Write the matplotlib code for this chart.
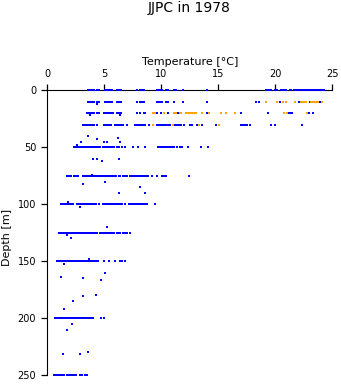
import numpy as np
import matplotlib
matplotlib.use('Agg')
import matplotlib.pyplot as plt

plt.rcParams['font.family'] = ['DejaVu Sans']

# standard depth levels (m) and blue temperatures (degC)
blue_levels = [0, 10, 20, 30, 50, 75, 100, 125, 150, 200, 250]
blue_temps = [
    [3.55, 3.7, 3.85, 4.0, 4.1, 4.4, 4.5, 5.1, 5.25, 5.4, 5.55, 5.7, 6.1, 6.3, 6.5,
     7.9, 8.1, 8.3, 8.5, 9.6, 9.75, 9.9, 10.05, 10.45, 10.6, 11.15, 11.3, 11.9, 14.0,
     19.2, 19.35, 19.5, 19.65, 19.95, 20.15, 20.5, 20.65, 20.8, 20.95, 21.25, 21.4,
     21.65, 21.8, 22.0, 22.15, 22.3, 22.45, 22.6, 22.8, 22.95, 23.1, 23.35, 23.5,
     23.65, 23.8, 23.95, 24.1, 24.25],
    [3.55, 3.7, 3.85, 4.0, 4.1, 4.4, 4.5, 5.1, 5.25, 5.4, 5.55, 5.7, 6.1, 6.3, 6.5,
     7.9, 8.1, 8.35, 8.5, 9.6, 9.75, 9.9, 10.05, 10.45, 10.6, 11.15, 11.9, 14.0,
     18.35, 18.55, 20.45, 22.1, 23.0, 23.9],
    [3.5, 3.65, 3.8, 3.95, 4.1, 4.4, 4.5, 5.0, 5.15, 5.3, 5.45, 5.6, 5.75, 6.1, 6.3,
     6.5, 7.9, 8.1, 8.45, 8.6, 9.65, 9.95, 10.55, 11.45, 14.0, 17.0, 19.35, 21.2,
     21.35, 21.5, 22.95, 23.35],
    [3.15, 3.3, 3.5, 3.65, 3.8, 3.95, 4.1, 4.4, 5.0, 5.15, 5.3, 5.45, 5.6, 5.9, 6.05,
     6.2, 6.35, 6.5, 6.65, 6.95, 7.65, 7.8, 7.95, 8.1, 8.25, 8.4, 8.55, 8.95, 9.65,
     9.8, 9.95, 10.1, 10.25, 10.4, 10.55, 10.8, 11.15, 11.3, 11.45, 11.6, 11.75,
     11.95, 12.55, 12.7, 13.1, 13.6, 14.8, 16.95, 17.1, 17.25, 17.4, 17.55, 17.8,
     19.65, 19.95, 22.35],
    [2.3, 2.45, 2.6, 2.75, 2.9, 3.05, 3.2, 3.35, 3.5, 3.65, 3.8, 3.95, 4.1, 4.25,
     4.45, 4.6, 4.9, 5.05, 5.2, 5.35, 5.5, 5.65, 5.85, 6.1, 6.3, 6.55, 6.8, 7.5, 8.0,
     8.6, 9.75, 9.9, 10.05, 10.2, 10.35, 10.5, 10.65, 10.8, 10.95, 11.1, 11.4, 11.6,
     11.8, 12.3, 13.5, 14.1],
    [1.75, 1.9, 2.1, 2.3, 2.5, 2.65, 3.1, 3.25, 3.4, 3.55, 3.7, 3.85, 4.0, 4.2, 4.4,
     4.55, 4.7, 4.85, 5.0, 5.15, 5.3, 5.45, 5.6, 5.75, 5.9, 6.05, 6.25, 6.4, 6.6, 6.8,
     7.0, 7.25, 7.4, 7.55, 7.7, 7.85, 8.0, 8.15, 8.3, 8.5, 8.7, 8.85, 9.15, 9.65,
     10.1, 10.25, 10.45, 12.45],
    [1.2, 1.35, 1.5, 1.65, 1.8, 1.95, 2.1, 2.25, 2.6, 2.75, 2.9, 3.05, 3.2, 3.35, 3.5,
     3.65, 3.8, 3.95, 4.1, 4.25, 4.5, 4.9, 5.05, 5.2, 5.35, 5.5, 5.65, 5.8, 5.95, 6.1,
     6.25, 6.4, 6.55, 6.8, 7.2, 7.35, 7.5, 7.65, 7.8, 7.95, 8.1, 8.3, 8.45, 8.6, 8.75,
     9.45],
    [1.05, 1.2, 1.35, 1.5, 1.65, 1.8, 1.95, 2.1, 2.25, 2.4, 2.55, 2.7, 2.85, 3.0,
     3.15, 3.3, 3.5, 3.65, 3.8, 3.95, 4.1, 4.25, 4.4, 4.6, 4.75, 4.9, 5.05, 5.2, 5.35,
     5.5, 5.65, 5.85, 6.1, 6.25, 6.4, 6.6, 6.8, 6.95, 7.25],
    [0.85, 1.0, 1.15, 1.3, 1.45, 1.6, 1.75, 1.9, 2.05, 2.2, 2.35, 2.5, 2.65, 2.8,
     2.95, 3.1, 3.25, 3.4, 3.55, 3.7, 3.85, 4.0, 4.15, 4.3, 4.45, 5.0, 5.45, 5.95,
     6.4, 6.55, 6.85],
    [0.7, 0.85, 1.0, 1.15, 1.3, 1.45, 1.6, 1.75, 1.9, 2.05, 2.2, 2.35, 2.5, 2.65,
     2.8, 2.95, 3.1, 3.25, 3.4, 3.55, 3.7, 3.85, 4.0, 4.75, 4.95],
    [0.6, 0.75, 0.9, 1.05, 1.2, 1.35, 1.5, 1.75, 1.9, 2.05, 2.2, 2.35, 2.5, 2.9,
     3.05, 3.35, 3.5],
]

# odd-depth blue samples
extra_temp = [4.4, 3.75, 6.4, 3.6, 2.96, 4.39, 4.95, 5.2, 6.2, 6.4, 2.58,
              4.0, 4.4, 4.8, 6.3, 3.95, 3.1, 5.1, 8.1, 6.3, 8.6, 1.84, 2.87,
              5.2, 1.7, 2.1, 3.7, 1.45, 1.2, 3.1, 4.7, 5.1, 4.3, 3.1, 2.28, 1.5,
              1.7, 2.2, 1.4, 2.9, 3.6]
extra_depth = [12.3, 22, 22, 40, 45.3, 43, 45, 45, 41.8, 45, 48,
               60.3, 60.3, 62.3, 60.3, 74, 82, 80, 85, 90.4, 90.4, 98, 102,
               120, 127, 130, 148, 152, 164, 165, 166, 160, 179.6, 180.7, 185, 192,
               210, 205, 231.6, 231.6, 229.6]

# orange series
orange_levels = [10, 20, 30]
orange_temps = [
    [19.2, 20.15, 20.7, 20.95, 21.7, 22.25, 22.4, 22.55, 22.7, 23.15, 23.3, 23.45,
     23.6, 23.75, 24.1],
    [9.25, 9.45, 10.2, 11.1, 11.3, 11.6, 11.75, 12.15, 12.3, 12.45, 12.6, 12.75,
     12.9, 13.05, 13.6, 14.2, 15.2, 15.7, 16.5, 20.8, 21.0, 22.8],
    [9.25, 11.0, 13.3, 15.05],
]

bx = np.concatenate([np.array(t) for t in blue_temps] + [np.array(extra_temp)])
by = np.concatenate([np.full(len(t), d, dtype=float) for d, t in zip(blue_levels, blue_temps)]
                    + [np.array(extra_depth)])
ox = np.concatenate([np.array(t) for t in orange_temps])
oy = np.concatenate([np.full(len(t), d, dtype=float) for d, t in zip(orange_levels, orange_temps)])

fig = plt.figure(figsize=(3.41, 3.84), dpi=100)
ax = fig.add_axes([0.1387, 0.0227, 0.8358, 0.7421])

ax.plot(bx, by, 's', color='#0000ff', markersize=2.1, markeredgewidth=0,
        clip_on=False, zorder=3)
ax.plot(ox, oy, 's', color='#ffa500', markersize=2.1, markeredgewidth=0,
        clip_on=False, zorder=3)

ax.set_xlim(0, 25)
ax.set_ylim(250, 0)
ax.xaxis.set_ticks_position('top')
ax.xaxis.set_label_position('top')
ax.set_xticks([0, 5, 10, 15, 20, 25])
ax.set_yticks([0, 50, 100, 150, 200, 250])
ax.spines['bottom'].set_visible(False)
ax.spines['right'].set_visible(False)
ax.tick_params(length=4, width=0.9, labelsize=7, pad=4)
ax.set_xlabel('Temperature [°C]', fontsize=8, labelpad=3)
ax.set_ylabel('Depth [m]', fontsize=8, labelpad=4)
ax.yaxis.set_label_coords(-0.125, 0.485)

fig.text(0.556, 0.98, 'JJPC in 1978', ha='center', va='center', fontsize=10)

fig.savefig('out.png', dpi=100)
